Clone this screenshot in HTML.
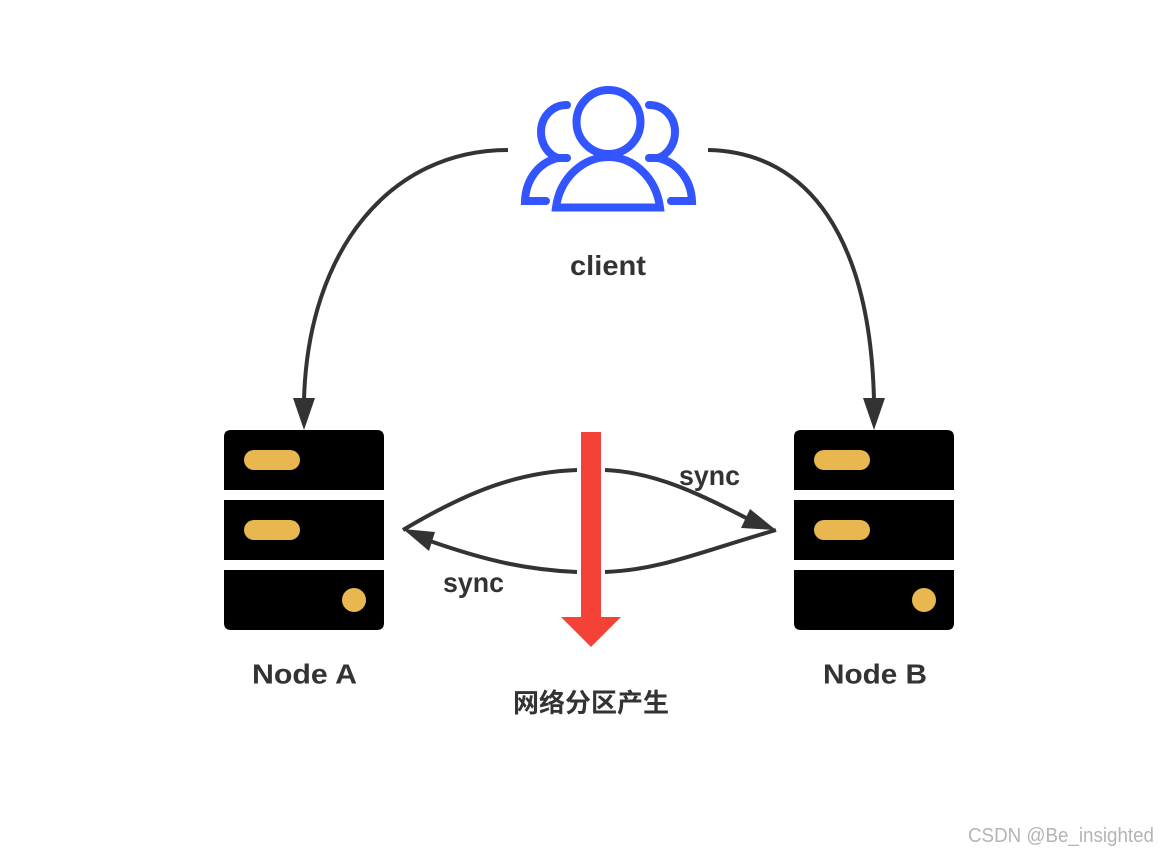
<!DOCTYPE html>
<html>
<head>
<meta charset="utf-8">
<style>
html,body{margin:0;padding:0;background:#fff}
svg{display:block}
text{font-family:"Liberation Sans","Noto Sans CJK SC",sans-serif;font-weight:bold;fill:#333}
</style>
</head>
<body>
<svg width="1168" height="856" viewBox="0 0 1168 856" xmlns="http://www.w3.org/2000/svg">
<rect width="1168" height="856" fill="#fff"/>
<!-- client icon -->
<g fill="none" stroke="#3355ff" stroke-width="8" stroke-linecap="round" stroke-linejoin="miter">
<circle cx="608.5" cy="122" r="32"/>
<path d="M556 207.500C560 177 584 157 608.500 157C633 157 656 177 660 207.500Z"/>
<path d="M567 105C552 105 541 117 541 132C541 145 549 155 558 158H567"/>
<path d="M558 158C540 162 526 178 525 201H546"/>
<path d="M649 105C664 105 675 117 675 132C675 145 667 155 658 158H649"/>
<path d="M658 158C676 162 691 178 692 201H671"/>
</g>
<!-- server A -->
<g>
<path d="M231 430H377Q384 430 384 437V490H224V437Q224 430 231 430Z" fill="#000"/>
<rect x="224" y="500" width="160" height="60" fill="#000"/>
<path d="M224 570H384V623Q384 630 377 630H231Q224 630 224 623Z" fill="#000"/>
<rect x="244" y="450" width="56" height="20" rx="10" fill="#e9b750"/>
<rect x="244" y="520" width="56" height="20" rx="10" fill="#e9b750"/>
<circle cx="354" cy="600" r="12" fill="#e9b750"/>
</g>
<!-- server B -->
<g transform="translate(570 0)">
<path d="M231 430H377Q384 430 384 437V490H224V437Q224 430 231 430Z" fill="#000"/>
<rect x="224" y="500" width="160" height="60" fill="#000"/>
<path d="M224 570H384V623Q384 630 377 630H231Q224 630 224 623Z" fill="#000"/>
<rect x="244" y="450" width="56" height="20" rx="10" fill="#e9b750"/>
<rect x="244" y="520" width="56" height="20" rx="10" fill="#e9b750"/>
<circle cx="354" cy="600" r="12" fill="#e9b750"/>
</g>
<!-- connectors -->
<g fill="none" stroke="#333" stroke-width="4">
<path d="M508 150C390 150 308 250 304 400"/>
<path d="M708 150C810 152 870 240 874 400"/>
<path d="M403 530C470 490 520 472 577 470"/>
<path d="M605 470C655 472 700 494 752 521"/>
<path d="M776 530C700 552 660 570 605 572"/>
<path d="M577 572C530 570 490 562 430 541"/>
</g>
<g fill="#333">
<path d="M293 398H315L304 430Z"/>
<path d="M863 398H885L874 430Z"/>
<path d="M750 509L776 530L741 528Z"/>
<path d="M403 529L435 532L429 551Z"/>
</g>
<!-- red arrow -->
<path d="M581 432H601V617H621L591 647L561 617H581Z" fill="#f44336"/>
<!-- labels -->
<text x="570" y="275" font-size="28" textLength="76" lengthAdjust="spacingAndGlyphs">client</text>
<text x="252" y="683.500" font-size="28" textLength="105" lengthAdjust="spacingAndGlyphs">Node A</text>
<text x="823" y="683.500" font-size="28" textLength="104" lengthAdjust="spacingAndGlyphs">Node B</text>
<text x="679" y="485" font-size="28" textLength="61" lengthAdjust="spacingAndGlyphs">sync</text>
<text x="443" y="592" font-size="28" textLength="61" lengthAdjust="spacingAndGlyphs">sync</text>
<text x="513" y="712" font-size="26" textLength="156" lengthAdjust="spacingAndGlyphs">网络分区产生</text>
<text x="968" y="842" font-size="20" textLength="186" lengthAdjust="spacingAndGlyphs" style="font-weight:normal;fill:#b4b4b4">CSDN @Be_insighted</text>
</svg>
</body>
</html>
